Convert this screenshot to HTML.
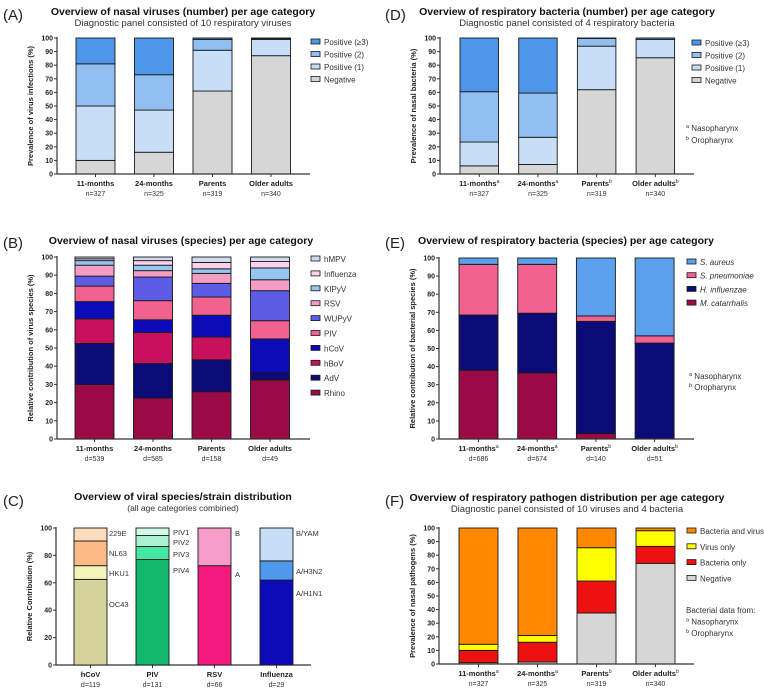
<!DOCTYPE html>
<html><head><meta charset="utf-8"><style>
html,body{margin:0;padding:0;background:#fff;}
svg{display:block;font-family:"Liberation Sans",Arial,sans-serif;}
</style></head><body>
<svg id="fig" width="764" height="688" viewBox="0 0 764 688" xmlns="http://www.w3.org/2000/svg"></svg>
<script>
// ---------- Panel A data ----------
const ageCats = ["11-months","24-months","Parents","Older adults"];
const aN = ["n=327","n=325","n=319","n=340"];
const aNegative = [10, 16, 61, 87];
const aPos1 = [40, 31, 30, 12];
const aPos2 = [31, 26, 8, 0.5];
const aPos3 = [19, 27, 1, 0.5];
// ---------- Panel B data ----------
const bD = ["d=539","d=585","d=158","d=49"];
const bRhino = [30, 22.5, 26, 32.5];
const bAdV = [22.5, 19, 17.5, 4];
const bHBoV = [13.5, 17, 12.5, 0];
const bHCoV = [9.5, 7, 12, 18.5];
const bPIV = [8.5, 10.5, 10, 10];
const bWUPyV = [5.5, 13, 7.5, 16.5];
const bRSV = [6, 3.5, 5.5, 6];
const bKIPyV = [2.5, 3, 2.5, 6.5];
const bInfluenza = [1, 2.5, 3.5, 3.5];
const bHMPV = [1, 2, 3, 2.5];
// ---------- Panel C data ----------
const cCats = ["hCoV","PIV","RSV","Influenza"];
const cD = ["d=119","d=131","d=66","d=29"];
const cSeg1 = [62.5, 77, 72.5, 62];
const cSeg2 = [10, 9.5, 27.5, 14];
const cSeg3 = [18, 8, 0, 24];
const cSeg4 = [9.5, 5.5, 0, 0];
// ---------- Panel D data ----------
const dN = ["n=327","n=325","n=319","n=340"];
const dNegative = [6, 7, 62, 85.5];
const dPos1 = [17.5, 20, 32, 13.5];
const dPos2 = [37, 32.5, 5.7, 0];
const dPos3 = [39.5, 40.5, 0.3, 1];
// ---------- Panel E data ----------
const eD = ["d=686","d=674","d=140","d=51"];
const eMcat = [38, 36.5, 3, 0];
const eHinf = [30.5, 33, 62, 53];
const eSpn = [28, 27, 3, 4];
const eSau = [3.5, 3.5, 32, 43];
// ---------- Panel F data ----------
const fN = ["n=327","n=325","n=319","n=340"];
const fNegative = [1, 1.5, 37.5, 74];
const fBact = [9, 14.5, 23.5, 12.5];
const fVirus = [4.5, 5, 24.5, 11.5];
const fBoth = [85.5, 79, 14.5, 2];

const NS = "http://www.w3.org/2000/svg";
const svg = document.getElementById("fig");
function el(tag, attrs, parent){
  const e = document.createElementNS(NS, tag);
  for (const k in attrs) e.setAttribute(k, attrs[k]);
  (parent||svg).appendChild(e);
  return e;
}
function txt(s, x, y, opt, parent){
  const t = el("text", Object.assign({x:x, y:y}, opt||{}), parent);
  t.textContent = s;
  return t;
}

function panel(cfg){
  const g = el("g", {});
  
  
  const yScale = v => cfg.y0 - (v/100)*(cfg.y0-cfg.y100);
  const xCenter = i => cfg.x0 + i*cfg.step + cfg.bw/2;
  const L = txt(cfg.letter, cfg.lx, cfg.ly, {"font-size":15,fill:"#222"}, g);
  
  
  const T = txt(cfg.title, cfg.tx, cfg.ty, {"font-size":10.5,"font-weight":"bold","text-anchor":"middle",fill:"#111"}, g);
  
  
  if (cfg.sub){
    const S = txt(cfg.sub, cfg.tx, cfg.ty+11, {"font-size":cfg.subSize||9.5,"text-anchor":"middle",fill:"#333"}, g);
    
    
  }
  const my = (cfg.y0+cfg.y100)/2;
  const YT = txt(cfg.ytitle, 0, 0, {"font-size":7.5,"font-weight":"bold","text-anchor":"middle",fill:"#222",transform:`translate(${cfg.ax-24},${my}) rotate(-90)`}, g);
  
  
  cfg.cats.forEach((c,i)=>{
    let acc = 0;
    cfg.series.forEach((s,si)=>{
      const v = s.values[i];
      if (v<=0) { return; }
      const y1 = yScale(acc+v), y2 = yScale(acc);
      const r = el("rect", {x:cfg.x0+i*cfg.step, y:y1, width:cfg.bw, height:Math.max(0,y2-y1), fill:s.color, stroke:"#1a1a1a","stroke-width":0.9}, g);
      
      
      acc += v;
    });
    const cl = txt(c, xCenter(i), cfg.y0+12, {"font-size":7.5,"font-weight":"bold","text-anchor":"middle",fill:"#222"}, g);
    if (cfg.sup) {
      const ts = el("tspan", {"font-size":5,"font-weight":"normal",dy:-3}, cl);
      ts.textContent = cfg.sup[i];
    }
    
    
    const nl = txt(cfg.nlabels[i], xCenter(i), cfg.y0+22, {"font-size":7,"text-anchor":"middle",fill:"#333"}, g);
    
    
    el("line", {x1:xCenter(i),x2:xCenter(i),y1:cfg.y0,y2:cfg.y0+3,stroke:"#333","stroke-width":1}, g);
  });
  const ya = el("line", {x1:cfg.ax,x2:cfg.ax,y1:cfg.y100-1,y2:cfg.y0,stroke:"#333","stroke-width":1.2}, g);
  
  
  const xa = el("line", {x1:cfg.ax,x2:cfg.axEnd,y1:cfg.y0,y2:cfg.y0,stroke:"#333","stroke-width":1.2}, g);
  
  
  for (let v=0; v<=100; v+=cfg.tick){
    const y = yScale(v);
    el("line", {x1:cfg.ax-3,x2:cfg.ax,y1:y,y2:y,stroke:"#333","stroke-width":1}, g);
    const tl = txt(String(v), cfg.ax-4, y+2.5, {"font-size":7,"font-weight":"bold","text-anchor":"end",fill:"#222"}, g);
    
    
  }
  if (cfg.legend){
    cfg.legend.items.forEach((it,k)=>{
      const y = cfg.legend.y + k*cfg.legend.dy;
      const r = el("rect", {x:cfg.legend.x, y:y-3, width:9, height:5, fill:it.color, stroke:"#1a1a1a","stroke-width":0.8}, g);
      
      
      const t = txt(it.label, cfg.legend.x+13, y+3, {"font-size":8,fill:"#333","font-style":it.italic?"italic":"normal"}, g);
      
      
    });
  }
  return g;
}

const negC="#d6d6d6", p1C="#c8ddf6", p2C="#92bff2", p3C="#4d96ea";
const supBact = ["a","a","b","b"];

panel({name:"panel-a",letter:"(A)",lx:3,ly:20,title:"Overview of nasal viruses (number) per age category",sub:"Diagnostic panel consisted of 10 respiratory viruses",tx:183,ty:15,
  ytitle:"Prevalence of virus infections (%)",ax:57,axEnd:310,y0:174,y100:38,x0:76,step:58.5,bw:39,tick:10,cats:ageCats,nlabels:aN,
  series:[{key:"negative",values:aNegative,color:negC},{key:"positive-1",values:aPos1,color:p1C},{key:"positive-2",values:aPos2,color:p2C},{key:"positive-3",values:aPos3,color:p3C}],
  legend:{x:311,y:42,dy:12.5,items:[{label:"Positive (≥3)",color:p3C},{label:"Positive (2)",color:p2C},{label:"Positive (1)",color:p1C},{label:"Negative",color:negC}]}});

const bCols = {rhino:"#9a0a46",adv:"#0b0b78",hbov:"#c8105c",hcov:"#0b0bb8",piv:"#f2628f",wupyv:"#5c5ce6",rsv:"#f49cc2",kipyv:"#95c6f2",flu:"#fbd2ea",hmpv:"#d0dcee"};
panel({name:"panel-b",letter:"(B)",lx:3,ly:248,title:"Overview of nasal viruses (species) per age category",tx:181,ty:244,
  ytitle:"Relative contribution of virus species (%)",ax:57,axEnd:310,y0:439,y100:257,x0:75,step:58.5,bw:39,tick:10,cats:ageCats,nlabels:bD,
  series:[{key:"rhino",values:bRhino,color:bCols.rhino},{key:"adv",values:bAdV,color:bCols.adv},{key:"hbov",values:bHBoV,color:bCols.hbov},{key:"hcov",values:bHCoV,color:bCols.hcov},{key:"piv",values:bPIV,color:bCols.piv},{key:"wupyv",values:bWUPyV,color:bCols.wupyv},{key:"rsv",values:bRSV,color:bCols.rsv},{key:"kipyv",values:bKIPyV,color:bCols.kipyv},{key:"influenza",values:bInfluenza,color:bCols.flu},{key:"hmpv",values:bHMPV,color:bCols.hmpv}],
  legend:{x:311,y:259,dy:14.9,items:[{label:"hMPV",color:bCols.hmpv},{label:"Influenza",color:bCols.flu},{label:"KIPyV",color:bCols.kipyv},{label:"RSV",color:bCols.rsv},{label:"WUPyV",color:bCols.wupyv},{label:"PIV",color:bCols.piv},{label:"hCoV",color:bCols.hcov},{label:"hBoV",color:bCols.hbov},{label:"AdV",color:bCols.adv},{label:"Rhino",color:bCols.rhino}]}});

(function(){
  const g = panel({name:"panel-c",letter:"(C)",lx:3,ly:506,title:"Overview of viral species/strain distribution",sub:"(all age categories combined)",subSize:8.5,tx:183,ty:500,
    ytitle:"Relative Contribution (%)",ax:56,axEnd:311,y0:665,y100:528,x0:74,step:62,bw:33,tick:20,cats:cCats,nlabels:cD,series:[]});
  const colors = [["#d5d39a","#f5f5ba","#fbba86","#fcdcbf"],["#12b86c","#44e8a2","#aaf0d2","#d2f8e8"],["#f21a7c","#f69cc9","#fff","#fff"],["#0b0bb8","#4f98ec","#c8ddf6","#fff"]];
  const segs = [cSeg1,cSeg2,cSeg3,cSeg4];
  const yS = v => 665 - v/100*(665-528);
  cCats.forEach((c,i)=>{
    let acc=0;
    segs.forEach((s,k)=>{
      const v=s[i]; if(v<=0) return;
      const r = el("rect",{x:74+i*62,y:yS(acc+v),width:33,height:yS(acc)-yS(acc+v),fill:colors[i][k],stroke:"#1a1a1a","stroke-width":0.9},g);
      
      
      acc+=v;
    });
  });
  const labs = [["229E",109,536],["NL63",109,556],["HKU1",109,576],["OC43",109,607],
    ["PIV1",173,535],["PIV2",173,545],["PIV3",173,557],["PIV4",173,573],
    ["B",235,536],["A",235,577],
    ["B/YAM",296,536],["A/H3N2",296,574],["A/H1N1",296,596]];
  labs.forEach(l=>{
    const t = txt(l[0],l[1],l[2],{"font-size":7.5,fill:"#333"},g);
    
    
  });
})();

panel({name:"panel-d",letter:"(D)",lx:385,ly:20,title:"Overview of respiratory bacteria (number) per age category",sub:"Diagnostic panel consisted of 4 respiratory bacteria",tx:567,ty:15,
  ytitle:"Prevalence of nasal bacteria (%)",ax:440,axEnd:694,y0:174,y100:38,x0:460,step:58.7,bw:38.5,tick:10,cats:ageCats,nlabels:dN,sup:supBact,
  series:[{key:"negative",values:dNegative,color:negC},{key:"positive-1",values:dPos1,color:p1C},{key:"positive-2",values:dPos2,color:p2C},{key:"positive-3",values:dPos3,color:p3C}],
  legend:{x:692,y:43,dy:12.5,items:[{label:"Positive (≥3)",color:p3C},{label:"Positive (2)",color:p2C},{label:"Positive (1)",color:p1C},{label:"Negative",color:negC}]}});

panel({name:"panel-e",letter:"(E)",lx:385,ly:248,title:"Overview of respiratory bacteria (species) per age category",tx:566,ty:244,
  ytitle:"Relative contribution of bacterial species (%)",ax:439,axEnd:694,y0:439,y100:258,x0:459,step:58.7,bw:39,tick:10,cats:ageCats,nlabels:eD,sup:supBact,
  series:[{key:"m-catarrhalis",values:eMcat,color:"#9a0a46"},{key:"h-influenzae",values:eHinf,color:"#0b0b78"},{key:"s-pneumoniae",values:eSpn,color:"#f2628f"},{key:"s-aureus",values:eSau,color:"#5aa0ec"}],
  legend:{x:687,y:262,dy:13.7,items:[{label:"S. aureus",color:"#5aa0ec",italic:true},{label:"S. pneumoniae",color:"#f2628f",italic:true},{label:"H. influenzae",color:"#0b0b78",italic:true},{label:"M. catarrhalis",color:"#9a0a46",italic:true}]}});

panel({name:"panel-f",letter:"(F)",lx:385,ly:506,title:"Overview of respiratory pathogen distribution per age category",sub:"Diagnostic panel consisted of 10 viruses and 4 bacteria",tx:567,ty:501,
  ytitle:"Prevalence of nasal pathogens (%)",ax:439,axEnd:694,y0:664,y100:528,x0:459,step:59,bw:39,tick:10,cats:ageCats,nlabels:fN,sup:supBact,
  series:[{key:"negative",values:fNegative,color:negC},{key:"bacteria-only",values:fBact,color:"#ee1111"},{key:"virus-only",values:fVirus,color:"#ffff00"},{key:"bacteria-and-virus",values:fBoth,color:"#ff8800"}],
  legend:{x:687,y:531,dy:15.8,items:[{label:"Bacteria and virus",color:"#ff8800"},{label:"Virus only",color:"#ffff00"},{label:"Bacteria only",color:"#ee1111"},{label:"Negative",color:negC}]}});

function note(lines, x, y, dy){
  lines.forEach((l,k)=>{
    const t = txt("", x, y+k*dy, {"font-size":8,fill:"#333"});
    if (l[0]){ const s = el("tspan",{"font-size":5.5,dy:-3},t); s.textContent=l[0]; const s2=el("tspan",{dy:3},t); s2.textContent=" "+l[1]; }
    else t.textContent = l[1];
    
    
  });
}
note([["a","Nasopharynx"],["b","Oropharynx"]], 686, 131, 12);
note([["a","Nasopharynx"],["b","Oropharynx"]], 689, 379, 11);
note([["","Bacterial data from:"],["a","Nasopharynx"],["b","Oropharynx"]], 686, 613, 11.5);
</script>
</body></html>
